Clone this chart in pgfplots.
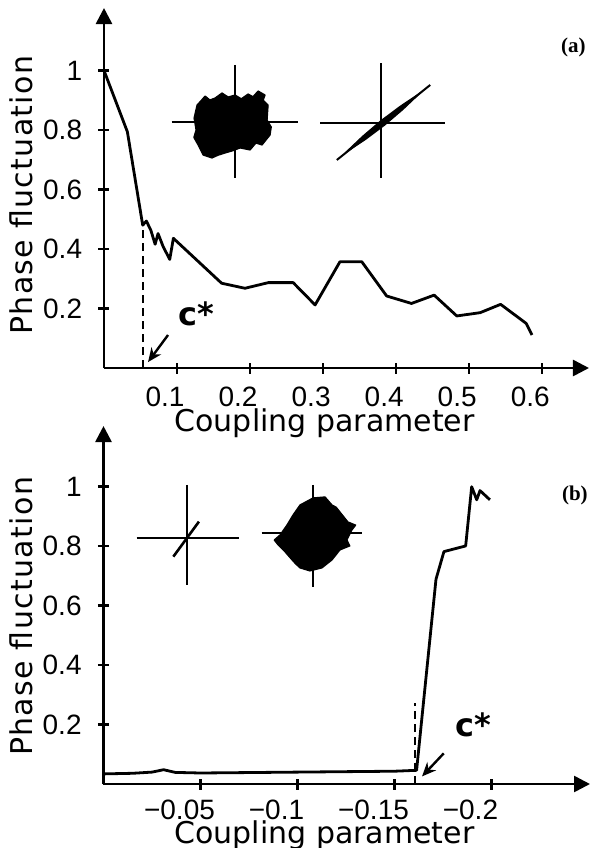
\documentclass[border=0pt]{standalone}
\usepackage{fontspec}
\usepackage{pgfplots}
\pgfplotsset{compat=1.18}
\usetikzlibrary{arrows.meta}
\setmainfont{DejaVu Sans}
\newfontfamily\tickfont{Liberation Sans}
\newfontfamily\panelfont{Liberation Serif}
\newfontfamily\ylabfont[LetterSpace=4.5]{DejaVu Sans}

\pgfplotsset{
  panel/.style={
    scale only axis, axis lines=left, clip=false,
    axis line style={line width=1.3pt, -{Triangle[length=8pt,width=8pt]}},
    tick style={line width=1.2pt, black},
    tick align=center, major tick length=5.5pt,
    ymin=0, ytick={0.2,0.4,0.6,0.8,1},
    /pgf/number format/assume math mode=true,
    tick label style={font=\tickfont\fontsize{14}{14}\selectfont},
    yticklabel style={anchor=east, inner sep=0pt, xshift=-8pt},
    xticklabel style={anchor=base, inner sep=0pt, yshift=-16.5pt},
    every axis plot/.append style={black, no markers, line join=round},
  },
  curve/.style={line width=1.4pt},
  hair/.style={line width=1pt},
  cloud/.style={fill=black, draw=black, line width=0.6pt},
  cstar/.style={line width=1.2pt, -{Stealth[length=7pt,width=6pt]}},
  dash/.style={line width=0.8pt, dash pattern=on 4pt off 2.5pt},
}

\begin{document}
\begin{tikzpicture}
\path[use as bounding box] (0,0) rectangle (295.5pt,-424pt);

% ---- (a) positive coupling
\begin{axis}[panel, at={(52pt,-184pt)}, anchor=south west,
  width=242.5pt, height=180pt,
  xmin=0, xmax=0.664, ymax=1.21,
  xtick={0.1,0.2,0.3,0.4,0.5,0.6},
  xticklabel style={xshift=-6pt}]
\addplot[curve] coordinates {
(0,1.0) (0.032,0.794) (0.053,0.48) (0.058,0.494) (0.064,0.464) (0.070,0.416)
(0.074,0.452) (0.081,0.408) (0.090,0.365) (0.095,0.436) (0.161,0.285)
(0.193,0.268) (0.225,0.287) (0.259,0.287) (0.289,0.212) (0.323,0.357)
(0.353,0.357) (0.387,0.242) (0.421,0.217) (0.452,0.245) (0.483,0.175)
(0.515,0.186) (0.543,0.214) (0.578,0.150) (0.586,0.111)};
\addplot[dash] coordinates {(0.053,0) (0.053,0.464)};
\addplot[cstar] coordinates {(0.0877,0.111) (0.0603,0.02)};
% inset: unsynchronised cloud
\addplot[hair] coordinates {(0.0927,0.828) (0.2662,0.828)};
\addplot[hair] coordinates {(0.1795,1.0185) (0.1795,0.6376)};
\addplot[cloud] coordinates {
(0.1274,0.8840) (0.1330,0.8990) (0.1384,0.9143) (0.1450,0.9010) (0.1521,0.9076)
(0.1616,0.9244) (0.1700,0.9110) (0.1795,0.9176) (0.1880,0.9050) (0.1973,0.9210)
(0.2040,0.9120) (0.2110,0.9311) (0.2205,0.9176) (0.2180,0.9000) (0.2247,0.8840)
(0.2233,0.8336) (0.2290,0.8100) (0.2274,0.7832) (0.2164,0.7496) (0.2080,0.7560)
(0.2000,0.7328) (0.1863,0.7395) (0.1760,0.7300) (0.1658,0.7227) (0.1560,0.7150)
(0.1479,0.7059) (0.1356,0.7160) (0.1288,0.7496) (0.1230,0.7750) (0.1260,0.8000)
(0.1233,0.8403) (0.1274,0.8840)};
% inset: synchronised diagonal
\addplot[hair] coordinates {(0.2959,0.8225) (0.4671,0.8225)};
\addplot[hair] coordinates {(0.3790,1.0242) (0.3790,0.6376)};
\addplot[hair] coordinates {(0.3188,0.6992) (0.4466,0.9513)};
\addplot[cloud] coordinates {
(0.3301,0.7227) (0.3540,0.7785) (0.3790,0.8309) (0.4054,0.8793) (0.4329,0.9244)
(0.4090,0.8686) (0.3840,0.8161) (0.3576,0.7677) (0.3301,0.7227)};
\node[anchor=base west, inner sep=0pt, font=\bfseries\fontsize{16}{16}\selectfont]
  at (axis cs:0.101,0.1445) {c*};
\node[font=\panelfont\bfseries\fontsize{10.5}{10.5}\selectfont]
  at (axis cs:0.6425,1.079) {(a)};
\node[anchor=base, font=\fontsize{15}{18}\selectfont]
  at ([yshift=-31.5pt]rel axis cs:0.455,0) {Coupling parameter};
\node[anchor=base, rotate=90, font=\ylabfont\fontsize{15}{18}\selectfont]
  at ([xshift=-35.5pt]rel axis cs:0,0.48) {Phase fluctuation};
\end{axis}

% ---- (b) negative coupling, drawn with |c| growing to the right
\begin{axis}[panel, at={(51.75pt,-392pt)}, anchor=south west,
  width=243.25pt, height=179pt,
  x filter/.expression={-x},
  xmin=0, xmax=0.2508, ymax=1.203,
  xtick={0.05,0.1,0.15,0.2},
  xticklabels={−0.05,−0.1,−0.15,−0.2},
  xticklabel style={xshift=-10.5pt, yshift=1.5pt}]
\addplot[curve] coordinates {
(0,0.034) (-0.015,0.036) (-0.025,0.040) (-0.031,0.048) (-0.037,0.039)
(-0.05,0.037) (-0.1,0.040) (-0.15,0.043) (-0.1614,0.046) (-0.1714,0.688)
(-0.1755,0.781) (-0.1867,0.800) (-0.1898,0.999) (-0.1924,0.955)
(-0.1941,0.986) (-0.1992,0.955)};
\addplot[dash] coordinates {(-0.1606,0) (-0.1606,0.271)};
\addplot[cstar] coordinates {(-0.1754,0.103) (-0.1642,0.0255)};
% inset: locked, near-diagonal segment
\addplot[hair] coordinates {(-0.0171,0.8259) (-0.0698,0.8259)};
\addplot[hair] coordinates {(-0.0429,1.005) (-0.0429,0.669)};
\addplot[hair, line width=1.3pt] coordinates {(-0.0360,0.764) (-0.0492,0.8817)};
% inset: scattered cloud
\addplot[hair] coordinates {(-0.0815,0.8447) (-0.1334,0.8447)};
\addplot[hair] coordinates {(-0.1081,1.005) (-0.1081,0.661)};
\addplot[cloud] coordinates {
(-0.1080,0.9613) (-0.1142,0.9647) (-0.1178,0.9378) (-0.1200,0.9300)
(-0.1219,0.9143) (-0.1260,0.8807) (-0.1300,0.8700) (-0.1281,0.8538)
(-0.1255,0.8202) (-0.1270,0.8000) (-0.1219,0.7866) (-0.1178,0.7529)
(-0.1126,0.7261) (-0.1064,0.7160) (-0.1013,0.7261) (-0.0990,0.7400)
(-0.0972,0.7529) (-0.0936,0.7798) (-0.0900,0.8034) (-0.0880,0.8200)
(-0.0910,0.8370) (-0.0946,0.8706) (-0.0977,0.9042) (-0.1013,0.9378)
(-0.1080,0.9613)};
\node[anchor=base west, inner sep=0pt, font=\bfseries\fontsize{16}{16}\selectfont]
  at (axis cs:0.1812,0.159) {c*};
\node[font=\panelfont\bfseries\fontsize{10.5}{10.5}\selectfont]
  at (axis cs:0.243,0.971) {(b)};
\node[anchor=base, font=\fontsize{15}{18}\selectfont]
  at ([yshift=-29.5pt]rel axis cs:0.454,0) {Coupling parameter};
\node[anchor=base, rotate=90, font=\ylabfont\fontsize{15}{18}\selectfont]
  at ([xshift=-35.5pt]rel axis cs:0,0.468) {Phase fluctuation};
\end{axis}
\end{tikzpicture}
\end{document}
